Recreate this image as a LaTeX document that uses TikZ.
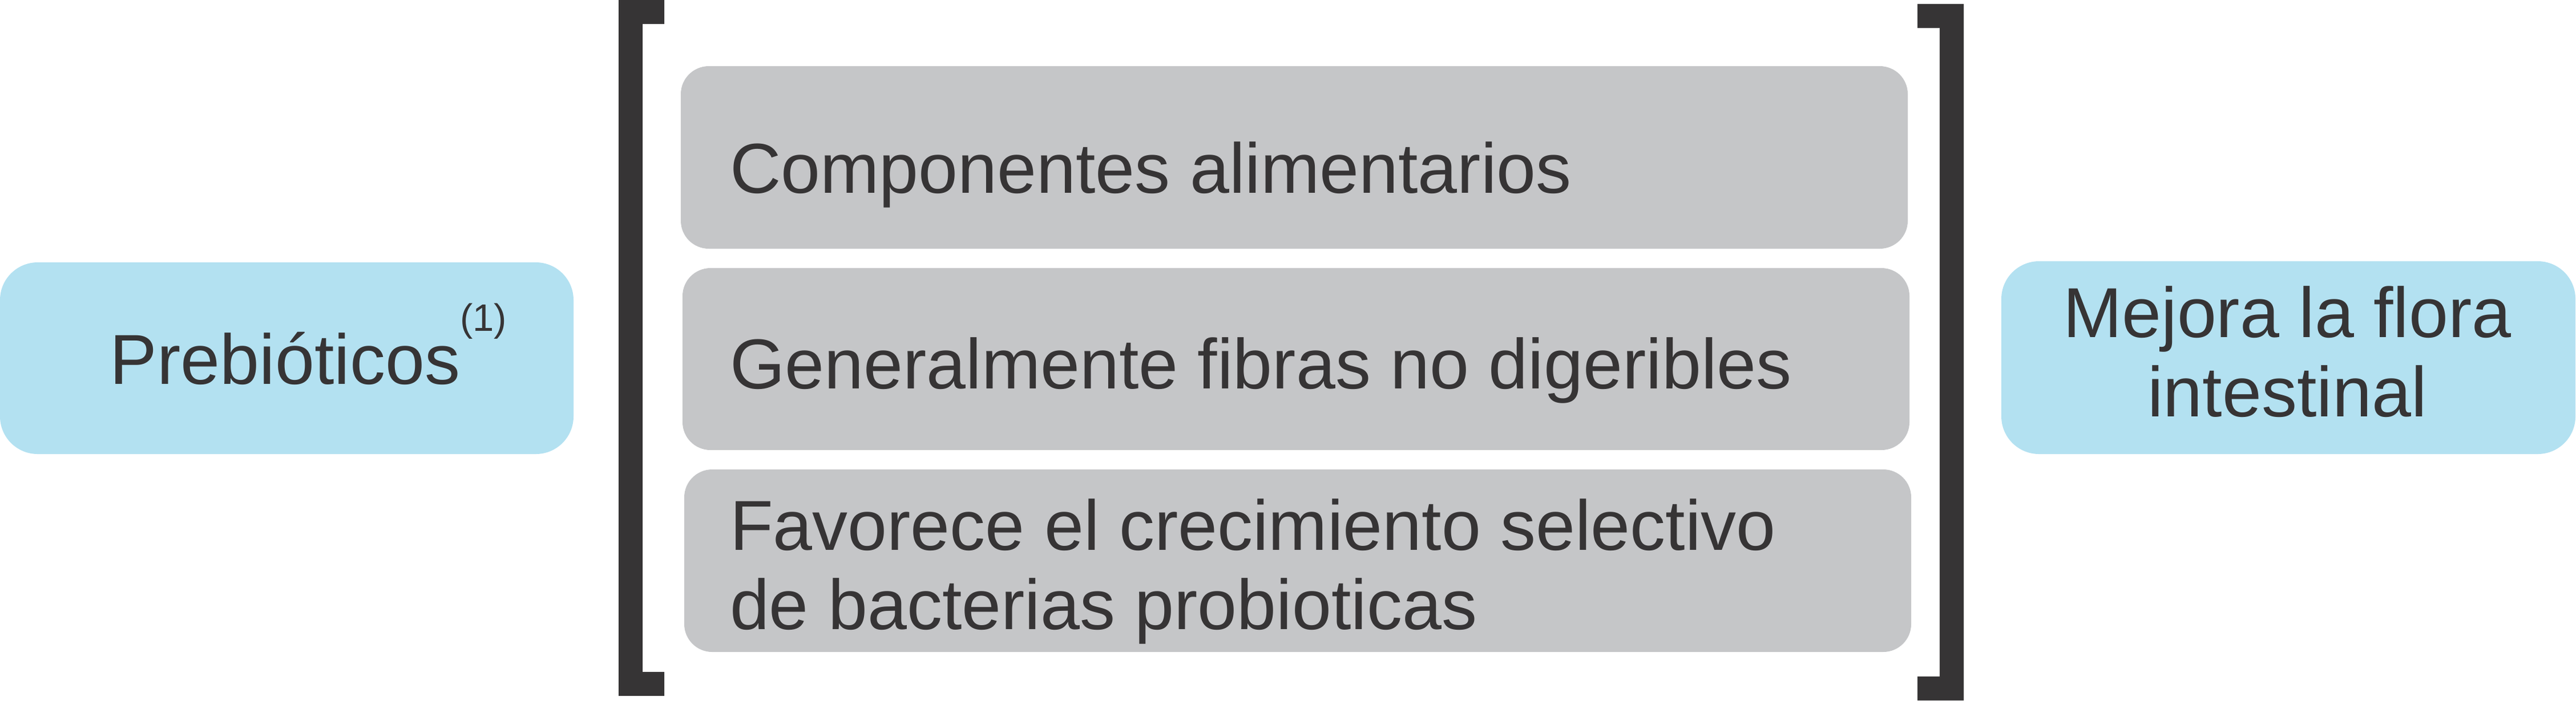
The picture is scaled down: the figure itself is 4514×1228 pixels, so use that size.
\documentclass[tikz,border=0pt]{standalone}
\usepackage{fontspec}
\setmainfont{Liberation Sans}
\definecolor{prebiblue}{HTML}{B3E1F1}
\definecolor{boxgray}{HTML}{C5C6C8}
\definecolor{darkink}{HTML}{363435}
\begin{document}
\begin{tikzpicture}[x=.1pt, y=-.1pt,
	txt/.style={inner sep=0pt, text depth=0pt, text=darkink, font=\fontsize{12.4}{13.9}\selectfont},
	bluebox/.style={fill=prebiblue, rounded corners=6.6pt},
	graybox/.style={fill=boxgray, rounded corners=4.9pt},
	bracket/.style={fill=darkink}]
	\useasboundingbox (0,0) rectangle (4514,1228);
	%izquierda
	\fill[bluebox] (0,460) rectangle (1005,796);
	\node[txt, anchor=south west] (prebio) at (191,675) {Prebióticos\raisebox{9.3pt}{\fontsize{6.7}{7}\selectfont(1)}};
	%corchetes
	\fill[bracket] (1084,0) -- ++(80,0) -- ++(0,42) -- ++(-38,0) -- ++(0,1136) -- ++(38,0) -- ++(0,42) -- ++(-80,0) -- cycle;
	\fill[bracket] (3441,7) -- ++(-81,0) -- ++(0,42) -- ++(39,0) -- ++(0,1137) -- ++(-39,0) -- ++(0,42) -- ++(81,0) -- cycle;
	%centro
	\fill[graybox] (1193,116) rectangle (3343,436);
	\fill[graybox] (1196,470) rectangle (3346,789);
	\fill[graybox] (1199,823) rectangle (3349,1143);
	\node[txt, anchor=south west] (comp) at (1277,340) {Componentes alimentarios};
	\node[txt, anchor=south west] (fibras) at (1277,683) {Generalmente fibras no digeribles};
	\node[txt, anchor=south west, align=left] (favor) at (1277,1105) {Favorece el crecimiento selectivo\\de bacterias probioticas};
	%derecha
	\fill[bluebox] (3507,458) rectangle (4513,796);
	\node[txt, anchor=south, align=center] (mejora) at (4008,732) {Mejora la flora\\intestinal};
\end{tikzpicture}
\end{document}
